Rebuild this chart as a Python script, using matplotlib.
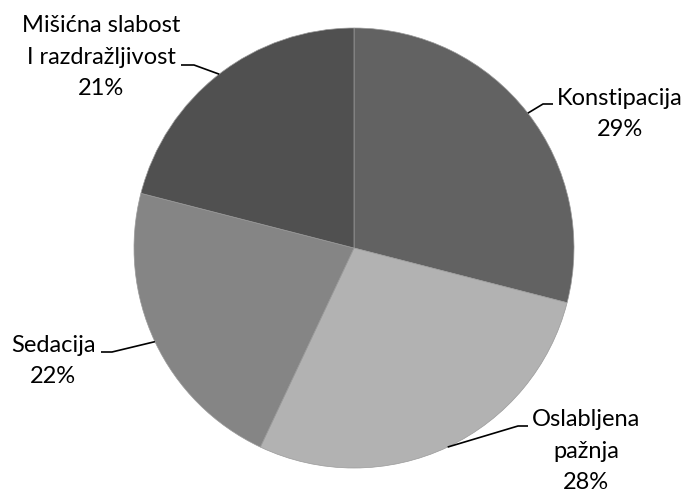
import numpy as np
import matplotlib
matplotlib.use("Agg")
import matplotlib.pyplot as plt

labels = ["Konstipacija", "Oslabljena\npažnja", "Sedacija", "Mišićna slabost\nI razdražljivost"]
values = [29, 28, 22, 21]
colors = ["#626262", "#b2b2b2", "#858585", "#505050"]

W, H = 685, 492
CX, CY, R = 354, 248, 220

fig = plt.figure(figsize=(W / 100, H / 100), dpi=100)
ax = fig.add_axes([(CX - R) / W, (H - CY - R) / H, 2 * R / W, 2 * R / H])
wedges, _ = ax.pie(values, colors=colors, startangle=90, counterclock=False, radius=1,
                   wedgeprops=dict(edgecolor="#9a9a9a", linewidth=0.5))
ax.set_xlim(-1, 1)
ax.set_ylim(-1, 1)
ax.set_aspect("equal")
ax.axis("off")


def d(px, py):
    return ((px - CX) / R, (CY - py) / R)


# elbow (pixel), horizontal end (pixel), text centre (pixel)
layout = [
    ((543, 104), (553, 104), (620, 114)),
    ((518, 426), (528, 426), (586, 451)),
    ((112, 352), (101, 352), (53, 361)),
    ((194, 65), (181, 65), (101, 57)),
]

for w, lab, val, (elb, end, tc) in zip(wedges, labels, values, layout):
    ang = np.deg2rad((w.theta1 + w.theta2) / 2)
    sx, sy = np.cos(ang), np.sin(ang)
    ex, ey = d(*elb)
    hx, hy = d(*end)
    ax.plot([sx, ex, hx], [sy, ey, hy], color="black", lw=1.2, clip_on=False,
            solid_capstyle="butt")
    tx, ty = d(*tc)
    ax.text(tx, ty, f"{lab}\n{val}%", ha="center", va="center", fontsize=17,
            family="Lato", linespacing=1.62, color="black", clip_on=False)

fig.savefig("out.png", dpi=100)
